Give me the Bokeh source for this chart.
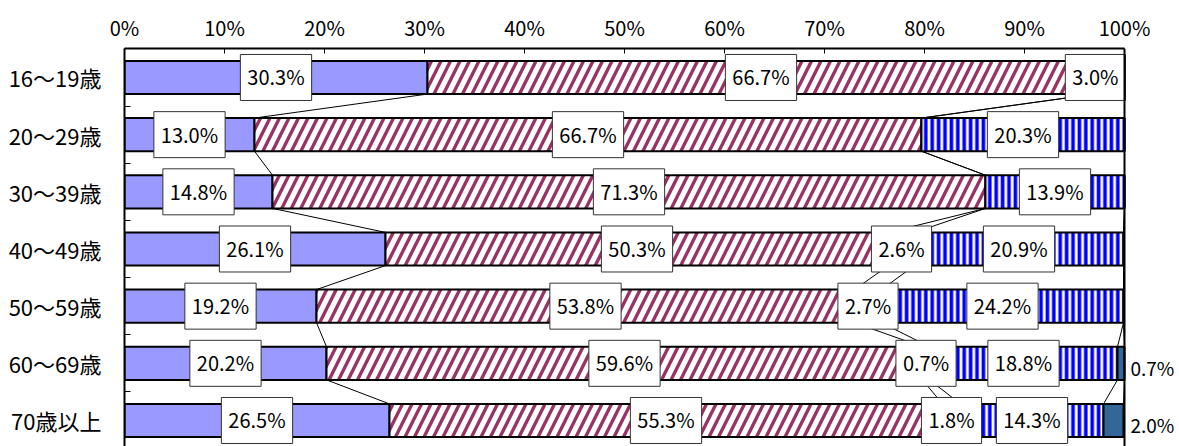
from bokeh.plotting import figure
from bokeh.models import Range1d, FixedTicker, ColumnDataSource, LabelSet, Span
from bokeh.core.properties import value
from bokeh.embed import file_html
from bokeh.resources import INLINE

# ---------------- data ----------------
categories = ["16～19歳", "20～29歳", "30～39歳", "40～49歳", "50～59歳", "60～69歳", "70歳以上"]
s1 = [30.3, 13.0, 14.8, 26.1, 19.2, 20.2, 26.5]
s2 = [66.7, 66.7, 71.3, 50.3, 53.8, 59.6, 55.3]
s3 = [0.0, 0.0, 0.0, 2.6, 2.7, 0.7, 1.8]
s4 = [3.0, 20.3, 13.9, 20.9, 24.2, 18.8, 14.3]
s5 = [0.0, 0.0, 0.0, 0.0, 0.0, 0.7, 2.0]
x_ticks = [0, 10, 20, 30, 40, 50, 60, 70, 80, 90, 100]
x_tick_labels = ["0%", "10%", "20%", "30%", "40%", "50%", "60%", "70%", "80%", "90%", "100%"]

# ---------------- styles ----------------
NUM_FONT = "Noto Sans CJK JP"
JP_FONT = "Noto Sans CJK JP"
NUM_SIZE = "20px"
BAR_H = 0.58
X_MAX = 100
X_VIEW = 105.4   # extra room right of the 100% border for outside labels

series = [s1, s2, s3, s4, s5]
styles = [
    dict(fill_color="#9999FF"),
    dict(fill_color="white", hatch_pattern="right_diagonal_line", hatch_color="#993366",
         hatch_weight=3.4, hatch_scale=19),
    dict(fill_color="#FFFFCC"),
    dict(fill_color="white", hatch_pattern="vertical_line", hatch_color="#0000FF",
         hatch_weight=3.6, hatch_scale=6.4),
    dict(fill_color="#336699"),
]

rows = list(range(len(categories)))

p = figure(width=1178, height=446, output_backend="svg", toolbar_location=None,
           x_range=Range1d(0, X_VIEW), y_range=Range1d(6.455, -0.507),
           x_axis_location="above",
           min_border_left=124, min_border_right=0, min_border_top=48, min_border_bottom=0)
p.outline_line_color = None
p.xgrid.visible = False
p.ygrid.visible = False

# top axis
xa = p.xaxis[0]
xa.ticker = FixedTicker(ticks=x_ticks)
xa.bounds = (0, X_MAX)
xa.major_label_overrides = {t: l for t, l in zip(x_ticks, x_tick_labels)}
xa.axis_line_width = 2
xa.axis_line_color = "black"
xa.major_tick_in = 5
xa.major_tick_out = 0
xa.major_tick_line_color = "black"
xa.minor_tick_line_color = None
xa.major_label_standoff = 7
xa.major_label_text_font = NUM_FONT
xa.major_label_text_font_size = NUM_SIZE
xa.major_label_text_color = "black"

# left axis
ya = p.yaxis[0]
ya.ticker = FixedTicker(ticks=rows, minor_ticks=[r + 0.5 for r in rows[:-1]])
ya.major_label_overrides = {r: c for r, c in zip(rows, categories)}
ya.axis_line_width = 2
ya.axis_line_color = "black"
ya.major_tick_line_color = None
ya.minor_tick_in = 6
ya.minor_tick_out = 0
ya.minor_tick_line_color = "black"
ya.major_label_standoff = 17
ya.major_label_text_font = JP_FONT
ya.major_label_text_font_size = "22px"
ya.major_label_text_color = "black"

# right border line at 100%
p.add_layout(Span(location=X_MAX, dimension="height", line_color="black", line_width=2))

# bars
left = [0.0] * len(rows)
cum_ends = []
for vals, st in zip(series, styles):
    right = [l + v for l, v in zip(left, vals)]
    src = ColumnDataSource(dict(y=rows, left=left, right=right))
    p.hbar(y="y", left="left", right="right", height=BAR_H, source=src,
           line_color="black", line_width=2, **st)
    cum_ends.append(right)
    left = right

# series lines
x0, y0, x1, y1 = [], [], [], []
for ends in cum_ends:
    for i in range(len(rows) - 1):
        x0.append(ends[i]); y0.append(rows[i] + BAR_H / 2)
        x1.append(ends[i + 1]); y1.append(rows[i + 1] - BAR_H / 2)
p.segment(x0=x0, y0=y0, x1=x1, y1=y1, line_color="black", line_width=1)

# boxed labels (series 1-4)
cx, cy, ct = [], [], []
rx, ry, rt = [], [], []
for k in range(4):
    starts = [0.0] * len(rows) if k == 0 else cum_ends[k - 1]
    for i in rows:
        v = series[k][i]
        if v <= 0:
            continue
        c = starts[i] + v / 2
        txt = f"{v:.1f}%"
        if c + 3.4 > X_MAX:
            rx.append(X_MAX); ry.append(i); rt.append(txt)
        else:
            cx.append(c); cy.append(i); ct.append(txt)

box = dict(text_font=value(NUM_FONT), text_font_size=NUM_SIZE, text_color="black",
           text_baseline="middle", background_fill_color="white",
           border_line_color="#333333", border_line_width=1,
           padding=dict(left=7, right=7, top=8, bottom=9))
p.text(x=cx, y=cy, text=ct, text_align="center", **box)
p.text(x=rx, y=ry, text=rt, text_align="right", x_offset=1, **box)

# outside labels (series 5)
ox, oy, ot = [], [], []
for i in rows:
    if s5[i] > 0:
        ox.append(X_MAX); oy.append(i); ot.append(f"{s5[i]:.1f}%")
osrc = ColumnDataSource(dict(x=ox, y=oy, t=ot))
p.add_layout(LabelSet(x="x", y="y", text="t", source=osrc, x_offset=6, y_offset=-4,
                      text_font=value(NUM_FONT), text_font_size="19px",
                      text_baseline="middle", text_align="left", text_color="black"))

open("out.html", "w").write(file_html(p, INLINE))
